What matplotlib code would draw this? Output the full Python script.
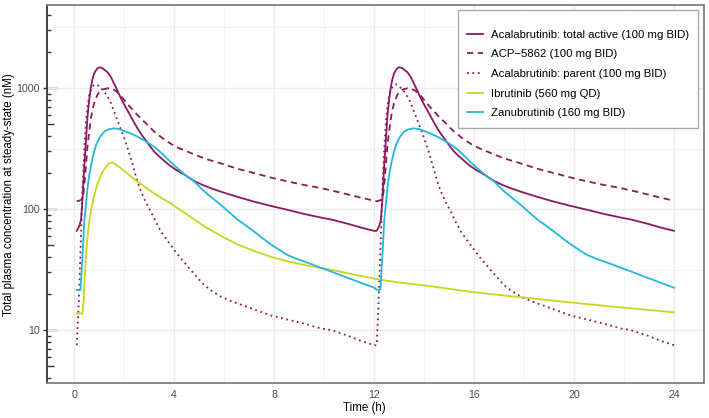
import numpy as np
import matplotlib
matplotlib.use('Agg')
import matplotlib.pyplot as plt
from matplotlib.ticker import FixedLocator, NullFormatter, NullLocator

plt.rcParams['font.family'] = ['Liberation Sans', 'DejaVu Sans']

# Steady-state profiles (time after dose in h, conc in nM)
# BID drugs: one 12 h dosing interval, repeated for the second dose
tau_total = [0.1, 0.2, 0.27, 0.33, 0.4, 0.47, 0.53, 0.6, 0.67, 0.73, 0.8, 0.87, 0.93, 1.0, 1.07,
             1.13, 1.2, 1.33, 1.47, 1.6, 1.73, 1.87, 2.0, 2.2, 2.37, 2.53, 2.7, 2.87, 3.03, 3.2,
             3.37, 3.53, 3.7, 3.87, 4.07, 4.27, 4.5, 4.81, 5.2, 5.53, 5.87, 6.53, 7.2, 7.87,
             8.53, 9.2, 9.87, 10.27, 11.0, 11.5, 12.0]
total_active = [66, 72, 81, 119, 224, 370, 579, 800, 1025, 1180, 1323, 1400, 1455, 1480, 1475,
                1455, 1420, 1350, 1230, 1080, 950, 822, 730, 615, 530, 464, 410, 368, 330, 298,
                275, 258, 240, 225, 211, 200, 187, 170, 156, 147, 139, 126, 115, 106,
                98.5, 91, 85, 82, 75, 70, 66]

tau_acp = [0.1, 0.2, 0.3, 0.37, 0.43, 0.47, 0.53, 0.6, 0.67, 0.73, 0.8, 0.87, 0.93, 1.0, 1.07,
           1.2, 1.33, 1.47, 1.6, 1.73, 1.87, 2.0, 2.2, 2.37, 2.53, 2.87, 3.2, 3.53, 3.87, 4.2,
           4.5, 4.85, 5.2, 5.87, 6.53, 7.2, 7.87, 8.53, 9.2, 9.87, 10.5, 11.2, 12.0]
acp5862 = [116, 117, 120, 135, 180, 230, 330, 440, 560, 660, 750, 822, 880, 920, 950,
           980, 994, 985, 963, 920, 860, 796, 710, 650, 598, 510, 436, 385, 345, 318,
           300, 280, 262, 238, 215, 198, 182, 169, 158, 149, 139, 128, 117]

tau_parent = [0.1, 0.15, 0.2, 0.27, 0.33, 0.4, 0.47, 0.53, 0.6, 0.67, 0.75, 0.87, 0.93, 1.0,
              1.1, 1.2, 1.33, 1.47, 1.6, 1.73, 1.87, 2.0, 2.2, 2.37, 2.53, 2.7, 2.87, 3.07,
              3.27, 3.47, 3.67, 3.87, 4.07, 4.27, 4.6, 4.9, 5.2, 5.53, 5.87, 6.2, 6.53, 7.2,
              7.87, 8.53, 9.2, 9.87, 10.27, 11.0, 11.5, 12.0]
parent = [7.5, 12, 22, 60, 148, 300, 527, 700, 875, 960, 1040, 1073, 1060, 1030,
          985, 932, 850, 750, 637, 540, 455, 384, 290, 220, 168, 135, 113, 95,
          78, 65, 57, 50, 44, 39, 32.5, 27.5, 23.5, 20.8, 18.9, 17.6, 16.6, 14.8,
          13.2, 12.2, 11.3, 10.3, 10, 8.9, 8.1, 7.5]

tau_zanu = [0.1, 0.25, 0.29, 0.33, 0.37, 0.4, 0.47, 0.53, 0.6, 0.67, 0.73, 0.8, 0.87, 0.93,
            1.07, 1.2, 1.37, 1.57, 1.8, 2.0, 2.27, 2.53, 2.87, 3.2, 3.53, 3.87, 4.27, 4.5,
            4.81, 5.2, 5.53, 5.87, 6.2, 6.53, 6.87, 7.2, 7.53, 7.87, 8.2, 8.53, 8.87, 9.2,
            9.53, 9.87, 10.27, 10.7, 11.2, 11.6, 12.0]
zanu = [21.5, 21.5, 30, 41.6, 58, 78.6, 110, 148, 190, 228, 262, 300, 335, 360,
        405, 436, 455, 464, 458, 441, 420, 396, 362, 327, 285, 243, 205, 187,
        168, 140, 123, 108, 94, 82, 73, 65, 57.5, 51, 46, 41.7, 39, 36.8,
        34.8, 32.7, 30.5, 28.2, 25.8, 24, 22.4]

# QD drug: full 24 h
t_ibru = [0.1, 0.33, 0.37, 0.4, 0.43, 0.47, 0.53, 0.6, 0.7, 0.8, 0.93, 1.07, 1.2, 1.33, 1.43,
          1.53, 1.7, 1.87, 2.2, 2.53, 2.87, 3.2, 3.53, 3.87, 4.27, 4.8, 5.2, 5.87, 6.53, 7.2,
          7.87, 8.53, 9.2, 9.87, 10.27, 11.27, 12.27, 13.27, 14.27, 16.0, 18.27, 20.0, 22.0, 24.0]
ibru = [13.7, 13.7, 17, 22, 30, 41.6, 58, 78.6, 105, 130, 162, 191, 213, 231, 240,
        243, 230, 217, 191, 168, 150, 134, 122, 111, 97.5, 82, 72, 60, 51, 45,
        40.3, 37, 34.5, 32.5, 31.5, 28.5, 26, 24.3, 23, 20.5, 18.3, 16.8, 15.3, 14]

dose_interval = 12
labels = ['Acalabrutinib: total active (100 mg BID)', 'ACP\u22125862 (100 mg BID)',
          'Acalabrutinib: parent (100 mg BID)', 'Ibrutinib (560 mg QD)', 'Zanubrutinib (160 mg BID)']

purple = '#8C1A5E'; lime = '#C6D81C'; cyan = '#24B7DA'


def two_doses(tau, c):
    t = np.concatenate([tau, np.array(tau) + dose_interval])
    return t, np.concatenate([c, c])


fig = plt.figure(figsize=(7.09, 4.18), dpi=100)
ax = fig.add_axes([47/709, 1-383.3/418, 657/709, 378.3/418])

lw = 1.3
ax.plot(*two_doses(tau_total, total_active), color=purple, lw=lw, label=labels[0])
ax.plot(*two_doses(tau_acp, acp5862), color=purple, lw=lw, ls=(0, (3.5, 2.5)), label=labels[1])
ax.plot(*two_doses(tau_parent, parent), color=purple, lw=lw, ls=(0, (1, 2)), label=labels[2])
ax.plot(t_ibru, ibru, color=lime, lw=lw, label=labels[3])
ax.plot(*two_doses(tau_zanu, zanu), color=cyan, lw=lw, label=labels[4])

ax.set_yscale('log')
ax.set_xlim(-1.09, 25.2)
ax.set_ylim(3.63, 4850)

# grid (ggplot style: major + log-midpoint minor)
ax.set_xticks([0, 4, 8, 12, 16, 20, 24])
ax.xaxis.set_minor_locator(FixedLocator([2, 6, 10, 14, 18, 22]))
ax.set_yticks([10, 100, 1000])
ax.set_yticklabels(['10', '100', '1000'])
ax.yaxis.set_minor_locator(FixedLocator([10**0.5, 10**1.5, 10**2.5, 10**3.5]))
ax.yaxis.set_minor_formatter(NullFormatter())
ax.grid(True, which='major', color='#EBEBEB', lw=1.0)
ax.grid(True, which='minor', color='#F2F2F2', lw=0.6)
ax.set_axisbelow(True)
ax.tick_params(axis='x', which='both', length=0, pad=5, labelsize=7.7, labelcolor='#4D4D4D')
ax.tick_params(axis='y', which='major', direction='out', length=3, width=1, color='#333333',
               pad=2, labelsize=7.7, labelcolor='#4D4D4D')
ax.tick_params(axis='y', which='minor', length=0)

# log ticks drawn inside the panel
lt = ax.secondary_yaxis('left')
lt.yaxis.set_major_locator(FixedLocator([1, 10, 100, 1000]))
lt.yaxis.set_minor_locator(FixedLocator([m * d for d in (1, 10, 100, 1000) for m in (2, 3, 4, 6, 7, 8, 9)]))
lt.yaxis.set_major_formatter(NullFormatter()); lt.yaxis.set_minor_formatter(NullFormatter())
lt.tick_params(which='major', direction='in', length=7.2, width=1, color='#333333')
lt.tick_params(which='minor', direction='in', length=2.9, width=1, color='#333333')
lt.spines['left'].set_visible(False)
mid = ax.secondary_yaxis('left')
mid.yaxis.set_major_locator(FixedLocator([5, 50, 500, 5000]))
mid.yaxis.set_minor_locator(NullLocator())
mid.yaxis.set_major_formatter(NullFormatter())
mid.tick_params(which='major', direction='in', length=4.8, width=1, color='#333333')
mid.spines['left'].set_visible(False)

for s in ax.spines.values():
    s.set_color('#808080'); s.set_linewidth(1.3)
ax.spines['left'].set_color('#333333')

ax.set_xlabel('Time (h)', fontsize=8.3)
ax.xaxis.set_label_coords(0.483, -0.05)
ax.set_ylabel('Total plasma concentration at steady-state (nM)', fontsize=8.3)
ax.yaxis.set_label_coords(-0.048, 0.5)

leg = ax.legend(loc='upper right', bbox_to_anchor=(0.991, 0.987), borderaxespad=0,
                fontsize=8.2, title=' ', title_fontsize=0.5, fancybox=False, framealpha=1,
                edgecolor='#AAAAAA', handlelength=1.4, handletextpad=0.7, labelspacing=0.85,
                borderpad=0.8)
leg.get_frame().set_linewidth(1.0)

fig.savefig('out.png', dpi=100)
